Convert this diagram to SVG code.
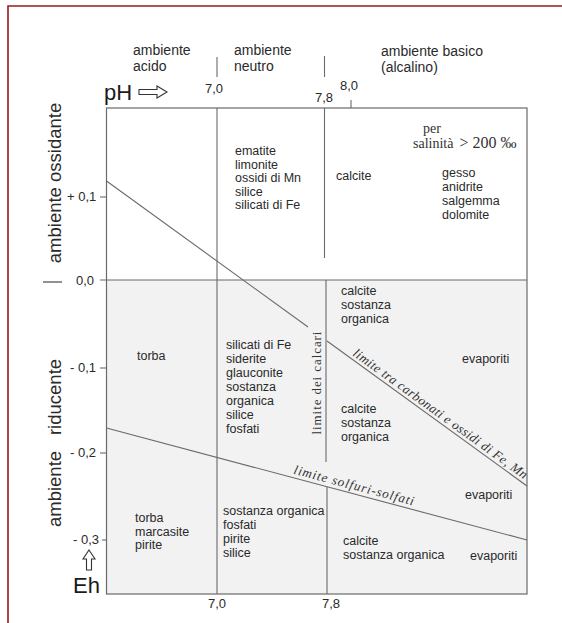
<svg xmlns="http://www.w3.org/2000/svg" width="562" height="623" viewBox="0 0 562 623">
<style>
.s{font-family:"Liberation Sans",Arial,sans-serif;fill:#2a2a2a}
.t{font-size:12.5px}
.h{font-size:14px}
.n{font-size:13px}
.big{font-size:22px;fill:#1a1a1a}
.ax{font-size:18.5px}
.r{font-family:"Liberation Serif","Times New Roman",serif;fill:#333}
.ln{stroke:#6a6a6a;stroke-width:1.1;fill:none}
.bx{stroke:#6a6a6a;stroke-width:1.2;fill:none}
</style>
<rect x="0" y="0" width="562" height="623" fill="#fff"/>
<g id="frame">
<path d="M8 623 V6 H562" fill="none" stroke="#9b1b1b" stroke-width="1.6"/>
</g>
<g id="lower-region">
<rect x="106.5" y="280" width="420.5" height="314" fill="#f2f2f2"/>
</g>
<g id="connectors">
<rect class="bx" x="106.5" y="108" width="420.5" height="486"/>
<line class="ln" x1="100" y1="280" x2="527" y2="280"/>
<line class="ln" x1="217" y1="108" x2="217" y2="594"/>
<line class="ln" x1="217" y1="57" x2="217" y2="77"/>
<line class="ln" x1="324.5" y1="56" x2="324.5" y2="77"/>
<line class="ln" x1="324.5" y1="108" x2="324.5" y2="258"/>
<line class="ln" x1="326" y1="280" x2="326" y2="462"/>
<line class="ln" x1="327" y1="487" x2="327" y2="594"/>
<line class="ln" x1="351" y1="100" x2="351" y2="108"/>
<line class="ln" x1="100" y1="197" x2="106.5" y2="197"/>
<line class="ln" x1="100" y1="368" x2="106.5" y2="368"/>
<line class="ln" x1="100" y1="453" x2="106.5" y2="453"/>
<line class="ln" x1="102" y1="540" x2="106.5" y2="540"/>
<line class="ln" x1="106.5" y1="181" x2="308" y2="327"/>
<line class="ln" x1="327" y1="341" x2="527" y2="486"/>
<line class="ln" x1="106.5" y1="428" x2="527" y2="540"/>
<line x1="43" y1="282" x2="62" y2="282" stroke="#555" stroke-width="1.3"/>
</g>
<g id="header">
<text class="s h" x="133" y="55">ambiente</text>
<text class="s h" x="133" y="71">acido</text>
<text class="s h" x="234" y="55">ambiente</text>
<text class="s h" x="234" y="71">neutro</text>
<text class="s h" x="381" y="56">ambiente basico</text>
<text class="s h" x="381" y="72">(alcalino)</text>
<text class="s n" x="205" y="93">7,0</text>
<text class="s n" x="315" y="102">7,8</text>
<text class="s n" x="340" y="90">8,0</text>
</g>
<g id="ph-axis">
<text class="s big" x="104" y="100">pH</text>
<path d="M139 89.5 H157 V86 L167 92 L157 98 V94.5 H139 Z" fill="#fff" stroke="#333" stroke-width="1.1"/>
</g>
<g id="eh-axis">
<path d="M89 550 L95 559 H91.5 V570 H86.5 V559 H83 Z" fill="#fff" stroke="#333" stroke-width="1.1"/>
<text class="s big" x="73" y="593">Eh</text>
<text class="s n" x="67" y="201">+ 0,1</text>
<text class="s n" x="76" y="285">0,0</text>
<text class="s n" x="70" y="372">- 0,1</text>
<text class="s n" x="70" y="457">- 0,2</text>
<text class="s n" x="73" y="544">- 0,3</text>
</g>
<g id="side-labels">
<text class="s ax" transform="translate(61,183) rotate(-90)" text-anchor="middle">ambiente ossidante</text>
<text class="s ax" transform="translate(61,397) rotate(-90)" text-anchor="middle">riducente</text>
<text class="s ax" transform="translate(61,489) rotate(-90)" text-anchor="middle">ambiente</text>
</g>
<g id="ox-neutro">
<text class="s t" x="235"><tspan x="235" y="155">ematite</tspan><tspan x="235" y="168.5">limonite</tspan><tspan x="235" y="182">ossidi di Mn</tspan><tspan x="235" y="195.5">silice</tspan><tspan x="235" y="209">silicati di Fe</tspan></text>
</g>
<g id="ox-basico">
<text class="s t" x="336" y="180">calcite</text>
<text class="s t"><tspan x="442" y="177">gesso</tspan><tspan x="442" y="191">anidrite</tspan><tspan x="442" y="205">salgemma</tspan><tspan x="442" y="219">dolomite</tspan></text>
<text class="r" x="423" y="133" font-size="14">per</text>
<text class="r" x="413" y="148"><tspan font-size="14">salinità</tspan><tspan font-size="16" dx="6">&gt; 200 ‰</tspan></text>
</g>
<g id="rid-acido">
<text class="s t" x="137" y="360">torba</text>
</g>
<g id="rid-neutro">
<text class="s t"><tspan x="226" y="349">silicati di Fe</tspan><tspan x="226" y="363">siderite</tspan><tspan x="226" y="377">glauconite</tspan><tspan x="226" y="391">sostanza</tspan><tspan x="226" y="405">organica</tspan><tspan x="226" y="419">silice</tspan><tspan x="226" y="433">fosfati</tspan></text>
</g>
<g id="rid-basico-alto">
<text class="s t"><tspan x="341" y="295">calcite</tspan><tspan x="341" y="309">sostanza</tspan><tspan x="341" y="323">organica</tspan></text>
</g>
<g id="rid-basico-medio">
<text class="s t"><tspan x="341" y="413">calcite</tspan><tspan x="341" y="427">sostanza</tspan><tspan x="341" y="441">organica</tspan></text>
</g>
<g id="evaporiti-1"><text class="s t" x="462" y="363">evaporiti</text></g>
<g id="evaporiti-2"><text class="s t" x="465" y="499">evaporiti</text></g>
<g id="evaporiti-3"><text class="s t" x="470" y="560">evaporiti</text></g>
<g id="sulf-acido">
<text class="s t"><tspan x="135" y="522">torba</tspan><tspan x="135" y="535.5">marcasite</tspan><tspan x="135" y="549">pirite</tspan></text>
</g>
<g id="sulf-neutro">
<text class="s t"><tspan x="223" y="515">sostanza organica</tspan><tspan x="223" y="529">fosfati</tspan><tspan x="223" y="543">pirite</tspan><tspan x="223" y="557">silice</tspan></text>
</g>
<g id="sulf-basico">
<text class="s t"><tspan x="343" y="545">calcite</tspan><tspan x="343" y="559">sostanza organica</tspan></text>
</g>
<g id="limit-labels">
<text class="r" font-size="13" font-style="italic" transform="translate(352,355) rotate(35.9)" textLength="212" lengthAdjust="spacing">limite tra carbonati e ossidi di Fe, Mn</text>
<text class="r" font-size="13" font-style="italic" transform="translate(293,473.5) rotate(14.9)" textLength="124" lengthAdjust="spacing">limite solfuri-solfati</text>
<text class="r" font-size="13" transform="translate(321,383) rotate(-90)" text-anchor="middle" textLength="103" lengthAdjust="spacing">limite dei calcari</text>
</g>
<g id="bottom-axis">
<text class="s n" x="208" y="608">7,0</text>
<text class="s n" x="322" y="608">7,8</text>
</g>
</svg>
